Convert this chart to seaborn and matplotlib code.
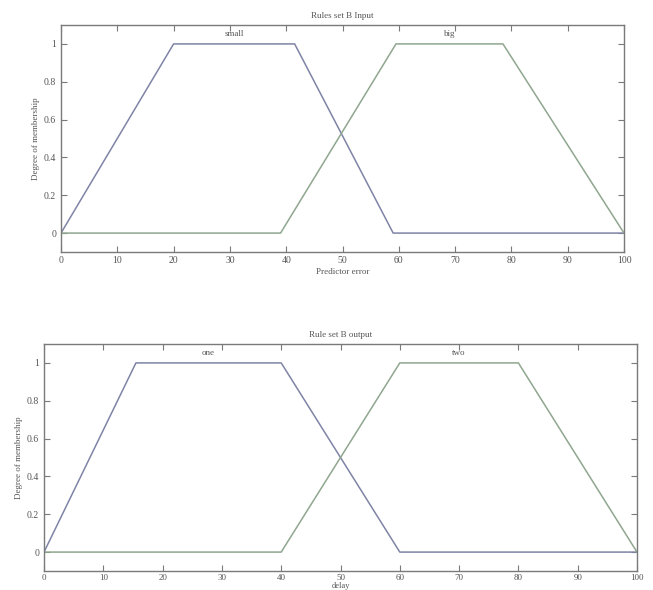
import matplotlib
matplotlib.use("Agg")
import matplotlib.pyplot as plt
import seaborn as sns
import pandas as pd

# Top panel: input membership functions
in_x_small = [0, 20, 41.5, 59, 100]
in_y_small = [0, 1, 1, 0, 0]
in_x_big = [0, 39, 59.5, 78.5, 100]
in_y_big = [0, 0, 1, 1, 0]
in_names = ["small", "big"]

# Bottom panel: output membership functions
out_x_one = [0, 15.5, 40, 60, 100]
out_y_one = [0, 1, 1, 0, 0]
out_x_two = [0, 40, 60, 80, 100]
out_y_two = [0, 0, 1, 1, 0]
out_names = ["one", "two"]

x_ticks = [0, 10, 20, 30, 40, 50, 60, 70, 80, 90, 100]
y_ticks = [0, 0.2, 0.4, 0.6, 0.8, 1]
y_ticklabels = ["0", "0.2", "0.4", "0.6", "0.8", "1"]

sns.set_style("ticks")
plt.rcParams["font.family"] = ["Liberation Serif", "DejaVu Serif"]

TXT = "#555555"
SPINE = "#7a7a7a"
C1 = "#7f84a6"
C2 = "#8fa68f"

fig = plt.figure(figsize=(6.53, 5.9), dpi=100)
ax1 = fig.add_axes([61/653, 1-252/590, 563/653, 227/590])
ax2 = fig.add_axes([44/653, 1-571/590, 593/653, 227/590])


def draw(ax, xa, ya, xb, yb, names, title, xlabel, labelpad):
    df = pd.DataFrame({
        "x": xa + xb,
        "y": ya + yb,
        "mf": [names[0]] * len(xa) + [names[1]] * len(xb),
    })
    sns.lineplot(data=df, x="x", y="y", hue="mf", palette=[C1, C2],
                 ax=ax, legend=False, linewidth=1.1, sort=False,
                 estimator=None)
    # labels at plateau centres
    ax.text((xa[1] + xa[2]) / 2, 1.05, names[0], ha="center", va="center",
            fontsize=6.5, color=TXT)
    ax.text((xb[2] + xb[3]) / 2, 1.05, names[1], ha="center", va="center",
            fontsize=6.5, color=TXT)
    ax.set_xlim(0, 100)
    ax.set_ylim(-0.1, 1.1)
    ax.set_xticks(x_ticks)
    ax.set_yticks(y_ticks)
    ax.set_yticklabels(y_ticklabels)
    ax.tick_params(direction="in", top=True, right=True, labelsize=7,
                   colors=SPINE, labelcolor=TXT, length=4, width=0.8)
    ax.tick_params(axis="x", pad=3)
    for s in ax.spines.values():
        s.set_color(SPINE)
        s.set_linewidth(1.0)
    ax.set_title(title, fontsize=6.5, color=TXT, pad=5)
    ax.set_xlabel(xlabel, fontsize=6.5, color=TXT, labelpad=labelpad)
    ax.set_ylabel("Degree of membership", fontsize=6.5, color=TXT, labelpad=3)


draw(ax1, in_x_small, in_y_small, in_x_big, in_y_big, in_names,
     "Rules set B Input", "Predictor error", 2)
draw(ax2, out_x_one, out_y_one, out_x_two, out_y_two, out_names,
     "Rule set B output", "delay", 0)
ax2.tick_params(axis="x", pad=2, labelsize=6.5)
ax2.xaxis.label.set_fontsize(6)
# keep the bottom axis label just inside the figure edge
ax2.xaxis.set_label_coords(0.5, -18.5 / 227)
ax2.xaxis.label.set_va("bottom")

fig.savefig("out.png", dpi=100)
